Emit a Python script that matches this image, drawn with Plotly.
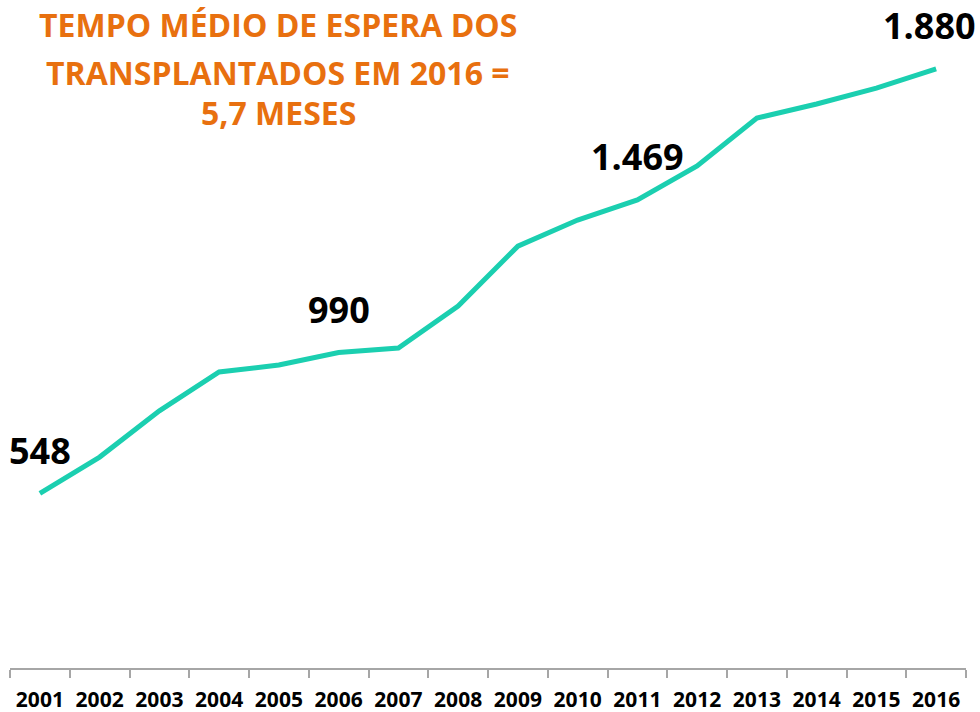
import plotly.graph_objects as go

years = [str(y) for y in range(2001, 2017)]
values = [548, 662, 807, 929, 951, 990, 1004, 1136, 1324, 1406, 1469, 1576, 1726, 1770, 1820, 1880]
label_years = ["2001", "2006", "2011", "2016"]
label_texts = ["548", "990", "1.469", "1.880"]
title_lines = ["TEMPO MÉDIO DE ESPERA DOS", "TRANSPLANTADOS EM 2016 =", "5,7 MESES"]

FONT = "Open Sans"
fig = go.Figure()
fig.add_trace(go.Scatter(
    x=years, y=values, mode="lines",
    line=dict(color="#1BCFB0", width=5),
    hoverinfo="skip", showlegend=False,
))

for yr, txt in zip(label_years, label_texts):
    idx = years.index(yr)
    xshift = -7 if yr == "2016" else 0
    fig.add_annotation(
        x=idx, y=values[idx], xref="x", yref="y", text=f"<b>{txt}</b>",
        showarrow=False, yshift=43, xshift=xshift, yanchor="middle",
        font=dict(family=FONT, size=36, color="#000000"),
    )

title_y = [26, 77, 120]
for line, ypx in zip(title_lines, title_y):
    fig.add_annotation(
        x=275 / 980, y=1 - ypx / 712, xref="paper", yref="paper",
        text=f"<b>{line}</b>", showarrow=False, xanchor="center", yanchor="middle",
        font=dict(family=FONT, size=32, color="#E8700F"),
    )

fig.update_layout(
    width=980, height=712,
    margin=dict(l=10, r=14, t=0, b=44),
    paper_bgcolor="white", plot_bgcolor="white",
    xaxis=dict(
        type="category", range=[-0.5, 15.5], showgrid=False,
        showline=True, linecolor="#A6A6A6", linewidth=1.5,
        ticks="outside", ticklen=8, tickcolor="#A6A6A6", tickwidth=1.5,
        tickson="boundaries", automargin=False, tickangle=0,
        tickfont=dict(family=FONT, size=21, color="#000000", weight="bold"),
        ticklabelstandoff=12,
        fixedrange=True,
    ),
    yaxis=dict(range=[0, 2096.5], visible=False, fixedrange=True, automargin=False),
)

fig.write_html(
    "out.html",
    config={"displayModeBar": False},
    post_script="document.body.style.margin='0';document.body.style.overflow='hidden';",
)
